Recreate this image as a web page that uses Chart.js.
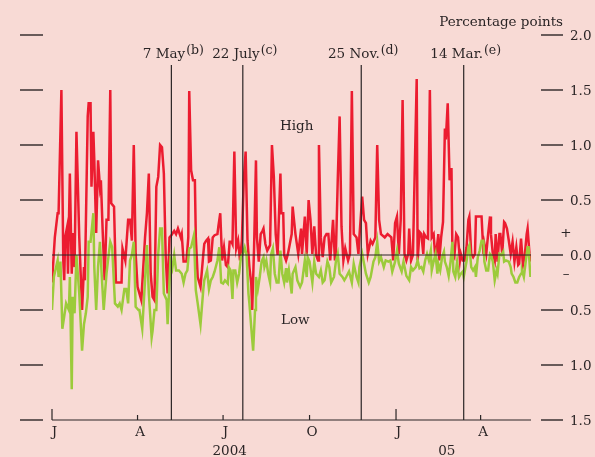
<!DOCTYPE html>
<html><head><meta charset="utf-8">
<script src="https://cdn.jsdelivr.net/npm/chart.js@4/dist/chart.umd.min.js"></script>
<style>html,body{margin:0;padding:0;background:#f8dad5}canvas{display:block}</style>
</head><body>
<canvas id="c" width="595" height="457"></canvas>
<script>
// Days counted from 1 January 2004
const highDays=[0,3,6,7,10,12,13,14,16,17,19,21,22,24,26,29,32,34,35,38,39,41,42,44,45,47,49,51,52,54,56,58,60,62,63,66,68,74,75,78,81,83,85,87,89,91,95,99,101,103,105,107,109,111,113,115,117,119,121,123,125,127,130,132,134,137,138,140,143,145,146,148,150,152,153,155,158,161,162,164,166,167,169,171,173,176,177,179,181,183,185,187,189,191,192,194,196,198,200,202,204,206,208,210,212,213,215,217,218,220,222,224,225,227,229,232,234,236,238,240,243,244,246,247,249,251,253,255,256,259,262,265,266,269,271,273,275,277,279,281,283,284,286,288,290,292,294,296,299,301,302,304,306,308,310,312,315,317,319,321,324,326,327,330,332,334,336,339,341,344,346,348,350,354,357,361,363,365,367,369,371,373,375,377,379,380,382,384,388,389,391,393,395,396,398,400,402,404,406,408,411,412,414,416,418,419,421,423,425,426,428,430,432,434,435,437,439,441,443,444,446,448,450,451,453,455,457,459,460,462,464,466,467,469,471,472,474,476,477,479,481,482,484,486,488,490,492,494,496,497,499,501,503,505,506,508,509];
const highValues=[-0.25,0.16,0.38,0.38,1.50,-0.05,-0.23,0.16,0.25,-0.17,0.74,-0.17,0.20,-0.11,1.12,0.16,-0.50,-0.11,-0.23,1.26,1.38,1.38,0.62,1.12,0.86,0.20,0.86,0.62,0.68,0.20,-0.23,0.32,0.32,1.50,0.47,0.44,-0.25,-0.25,0.06,-0.05,0.32,0.32,0.13,1.00,0.01,-0.29,-0.41,0.16,0.38,0.74,-0.17,-0.38,-0.41,0.62,0.71,1.00,0.98,0.74,-0.02,-0.35,0.16,0.18,0.22,0.19,0.24,0.16,0.19,-0.06,-0.06,0.16,1.49,0.77,0.68,0.68,0.16,-0.20,-0.29,0.01,0.10,0.13,0.15,-0.06,-0.05,0.16,0.18,0.19,0.26,0.38,-0.05,0.07,-0.09,-0.11,0.12,0.12,0.10,0.94,0.06,0.13,-0.05,0.13,0.68,0.94,0.13,-0.11,-0.26,-0.50,0.07,0.86,0.16,-0.06,0.19,0.22,0.24,0.10,0.04,0.09,1.00,0.71,0.19,0.00,0.74,0.38,0.38,0.00,-0.05,0.01,0.10,0.19,0.44,0.19,0.01,0.24,0.01,0.35,0.01,0.50,0.32,0.01,0.26,0.00,-0.05,1.00,0.16,-0.02,0.16,0.19,0.19,-0.05,0.32,-0.05,0.01,0.68,1.26,0.26,-0.05,0.06,-0.05,0.01,1.49,0.19,0.16,0.01,0.16,0.53,0.32,0.29,0.01,0.13,0.10,0.16,1.00,0.32,0.19,0.16,0.19,0.16,-0.05,0.29,0.35,0.01,0.32,1.41,0.01,-0.05,0.01,0.24,-0.05,0.00,1.60,-0.05,0.21,0.19,0.01,0.19,0.16,0.15,1.50,0.16,0.19,-0.05,0.19,-0.05,0.16,0.30,1.15,1.05,1.38,0.68,0.79,0.01,-0.02,0.19,0.16,-0.05,0.01,-0.05,-0.05,0.07,0.32,0.35,0.01,-0.02,0.01,0.35,0.35,0.35,0.35,0.01,0.10,0.01,0.19,0.35,0.19,0.01,-0.05,0.19,-0.06,0.19,0.19,0.01,0.30,0.29,0.24,0.13,0.01,0.12,-0.06,0.07,-0.09,-0.08,0.15,-0.09,0.00,0.19,0.24,0.01,-0.06];
const lowDays=[0,2,6,7,9,11,14,15,18,19,21,22,24,26,29,32,34,36,38,39,41,44,45,47,49,51,53,55,58,60,62,64,67,70,72,74,77,79,81,83,85,87,89,92,93,96,99,101,103,106,107,109,111,113,115,117,119,122,123,126,128,130,132,135,138,140,142,144,146,148,151,153,155,158,161,162,165,167,169,171,173,176,178,180,182,184,187,188,190,192,193,195,197,199,201,203,205,207,209,210,212,214,216,217,219,221,223,225,226,228,230,232,233,235,237,239,241,243,245,247,249,250,252,255,256,259,261,264,266,269,271,272,274,277,279,281,284,286,288,290,293,295,297,300,302,304,306,309,311,313,316,319,321,324,326,327,330,332,334,337,339,342,344,346,348,350,353,355,358,360,362,365,367,369,372,374,377,380,382,384,387,389,391,393,395,397,399,401,403,404,406,408,410,411,413,415,417,418,420,422,424,426,427,429,431,433,435,437,438,441,443,444,446,448,450,451,453,455,457,459,460,462,464,466,467,469,471,473,474,476,478,480,481,483,486,488,489,491,493,495,497,499,500,502,504,506,507,509];
const lowValues=[-0.50,-0.20,-0.05,-0.20,-0.06,-0.67,-0.50,-0.44,-0.50,-0.20,-1.22,-0.38,-0.53,0.00,-0.35,-0.87,-0.63,-0.53,-0.38,0.12,0.12,0.38,-0.11,-0.50,-0.11,0.12,-0.20,-0.50,-0.17,-0.02,0.12,0.07,-0.44,-0.47,-0.44,-0.50,-0.31,-0.31,-0.44,-0.05,0.00,0.12,-0.47,-0.50,-0.50,-0.67,-0.23,0.09,-0.35,-0.75,-0.69,-0.50,-0.50,0.01,0.24,0.24,-0.35,-0.41,-0.63,-0.05,-0.12,0.00,-0.14,-0.14,-0.17,-0.25,-0.17,-0.14,0.06,0.07,0.18,-0.32,-0.44,-0.63,-0.31,-0.23,-0.14,-0.31,-0.23,-0.20,-0.15,-0.05,0.07,-0.25,-0.26,-0.23,-0.26,-0.11,-0.14,-0.40,-0.14,-0.14,-0.25,-0.17,-0.02,0.01,0.07,0.00,-0.35,-0.44,-0.66,-0.87,-0.50,-0.20,-0.31,-0.20,-0.06,-0.02,-0.11,-0.05,-0.17,-0.25,0.00,0.06,-0.17,-0.25,-0.25,0.04,-0.17,-0.25,-0.12,-0.25,-0.14,-0.35,-0.17,-0.11,-0.23,-0.29,-0.25,-0.05,-0.20,-0.02,-0.06,-0.25,-0.06,-0.17,-0.20,-0.14,-0.25,-0.23,-0.06,-0.11,-0.25,-0.20,-0.06,0.01,-0.17,-0.20,-0.23,-0.20,-0.15,-0.25,-0.08,-0.20,-0.25,-0.11,0.01,-0.08,-0.17,-0.25,-0.20,-0.06,-0.02,0.12,-0.06,-0.02,-0.11,-0.05,-0.06,-0.05,-0.15,-0.06,0.04,-0.08,-0.15,-0.06,-0.19,-0.23,-0.11,-0.14,-0.11,-0.05,-0.12,-0.11,-0.15,-0.05,0.01,-0.05,0.04,-0.14,-0.06,0.01,-0.17,-0.08,-0.14,-0.02,0.03,-0.06,-0.11,-0.19,-0.06,0.12,-0.15,-0.20,-0.06,-0.20,-0.17,-0.15,-0.20,-0.06,0.07,0.09,-0.11,-0.14,-0.11,-0.20,-0.02,0.04,0.13,0.13,-0.06,-0.14,-0.14,0.01,0.00,-0.06,-0.23,-0.14,-0.17,0.01,0.00,0.03,-0.06,-0.05,-0.06,-0.11,-0.17,-0.20,-0.25,-0.25,-0.20,-0.17,-0.14,-0.20,-0.06,0.07,0.07,-0.20];

const xTickDays=[0,91,182,274,366,456];
const xTickLabels=['J','A','J','O','J','A'];
const xTickMajor=[true,false,false,false,true,false];
const yearLabels=['2004','05'];
const yearDays=[189,420];
const yTickValues=[2,1.5,1,0.5,0,-0.5,-1,-1.5];
const yTickLabels=['2.0','1.5','1.0','0.5','0.0','0.5','1.0','1.5'];
const eventDays=[127,203,329,438];
const eventLabels=['7 May','22 July','25 Nov.','14 Mar.'];
const eventNotes=['(b)','(c)','(d)','(e)'];

const toXY=(xs,ys)=>xs.map((x,i)=>({x:x,y:ys[i]}));
const INK='#2b2526';
const FONT='"DejaVu Serif", serif';

const decor={
  id:'decor',
  beforeDraw(chart){
    const c=chart.ctx;
    c.save();c.fillStyle='#f8dad5';c.fillRect(0,0,chart.width,chart.height);c.restore();
  },
  afterDatasetsDraw(chart){
    const c=chart.ctx, xs=chart.scales.x, ys=chart.scales.y, a=chart.chartArea;
    c.save();
    c.strokeStyle=INK;c.fillStyle=INK;
    // zero line
    c.lineWidth=1.2;
    const y0=ys.getPixelForValue(0);
    c.beginPath();c.moveTo(a.left,y0);c.lineTo(a.right,y0);c.stroke();
    // bottom axis
    const yb=ys.getPixelForValue(-1.5);
    c.beginPath();c.moveTo(a.left,yb);c.lineTo(a.right,yb);c.stroke();
    // x ticks (upwards)
    xTickDays.forEach((d,i)=>{
      const px=xs.getPixelForValue(d);
      const h=xTickMajor[i]?11:5;
      c.beginPath();c.moveTo(px,yb);c.lineTo(px,yb-h);c.stroke();
    });
    // event lines
    c.lineWidth=1.2;
    const yTop=65;
    eventDays.forEach(d=>{
      const px=xs.getPixelForValue(d);
      c.beginPath();c.moveTo(px,yTop);c.lineTo(px,yb);c.stroke();
    });
    // y tick marks, both sides
    c.lineWidth=1.4;
    yTickValues.forEach((v,i)=>{
      const py=ys.getPixelForValue(v);
      c.beginPath();c.moveTo(20,py);c.lineTo(43,py);c.stroke();
      c.beginPath();c.moveTo(541,py);c.lineTo(563,py);c.stroke();
    });
    // y labels
    c.font='13.5px '+FONT;c.textAlign='left';c.textBaseline='middle';
    yTickValues.forEach((v,i)=>{
      c.fillText(yTickLabels[i],570,ys.getPixelForValue(v)+1);
    });
    c.textAlign='center';
    c.fillText('+',566,y0-22);
    c.fillText('\u2013',566,y0+19);
    // unit
    c.textAlign='right';
    c.fillText('Percentage points',563,22);
    // x labels
    c.textAlign='center';
    xTickDays.forEach((d,i)=>{
      c.fillText(xTickLabels[i],xs.getPixelForValue(d)+2.5,432);
    });
    yearLabels.forEach((t,i)=>{
      c.fillText(t,xs.getPixelForValue(yearDays[i]),451);
    });
    // series labels
    c.textAlign='left';
    c.fillText('High',280,126);
    c.fillText('Low',281,320);
    // event labels
    eventDays.forEach((d,i)=>{
      const px=xs.getPixelForValue(d);
      c.font='13.5px '+FONT;
      const w1=c.measureText(eventLabels[i]).width;
      c.font='12.5px '+FONT;
      const w2=c.measureText(eventNotes[i]).width;
      const x0=px+2-(w1+1+w2)/2;
      c.textAlign='left';c.textBaseline='alphabetic';
      c.font='13.5px '+FONT;
      c.fillText(eventLabels[i],x0,58);
      c.font='12.5px '+FONT;
      c.fillText(eventNotes[i],x0+w1+1,54);
    });
    c.restore();
  }
};

new Chart(document.getElementById('c'),{
  type:'line',
  data:{datasets:[
    {label:'High',data:toXY(highDays,highValues),borderColor:'#ec1c30',borderWidth:2.5,pointRadius:0,tension:0,order:2},
    {label:'Low',data:toXY(lowDays,lowValues),borderColor:'#9ccb3b',borderWidth:2.5,pointRadius:0,tension:0,order:1}
  ]},
  options:{
    responsive:false,animation:false,devicePixelRatio:1,
    layout:{padding:{left:52,right:64,top:35,bottom:37}},
    plugins:{legend:{display:false},tooltip:{enabled:false}},
    scales:{
      x:{type:'linear',min:0,max:509.6,display:false},
      y:{type:'linear',min:-1.5,max:2,display:false}
    }
  },
  plugins:[decor]
});
</script>
</body></html>
